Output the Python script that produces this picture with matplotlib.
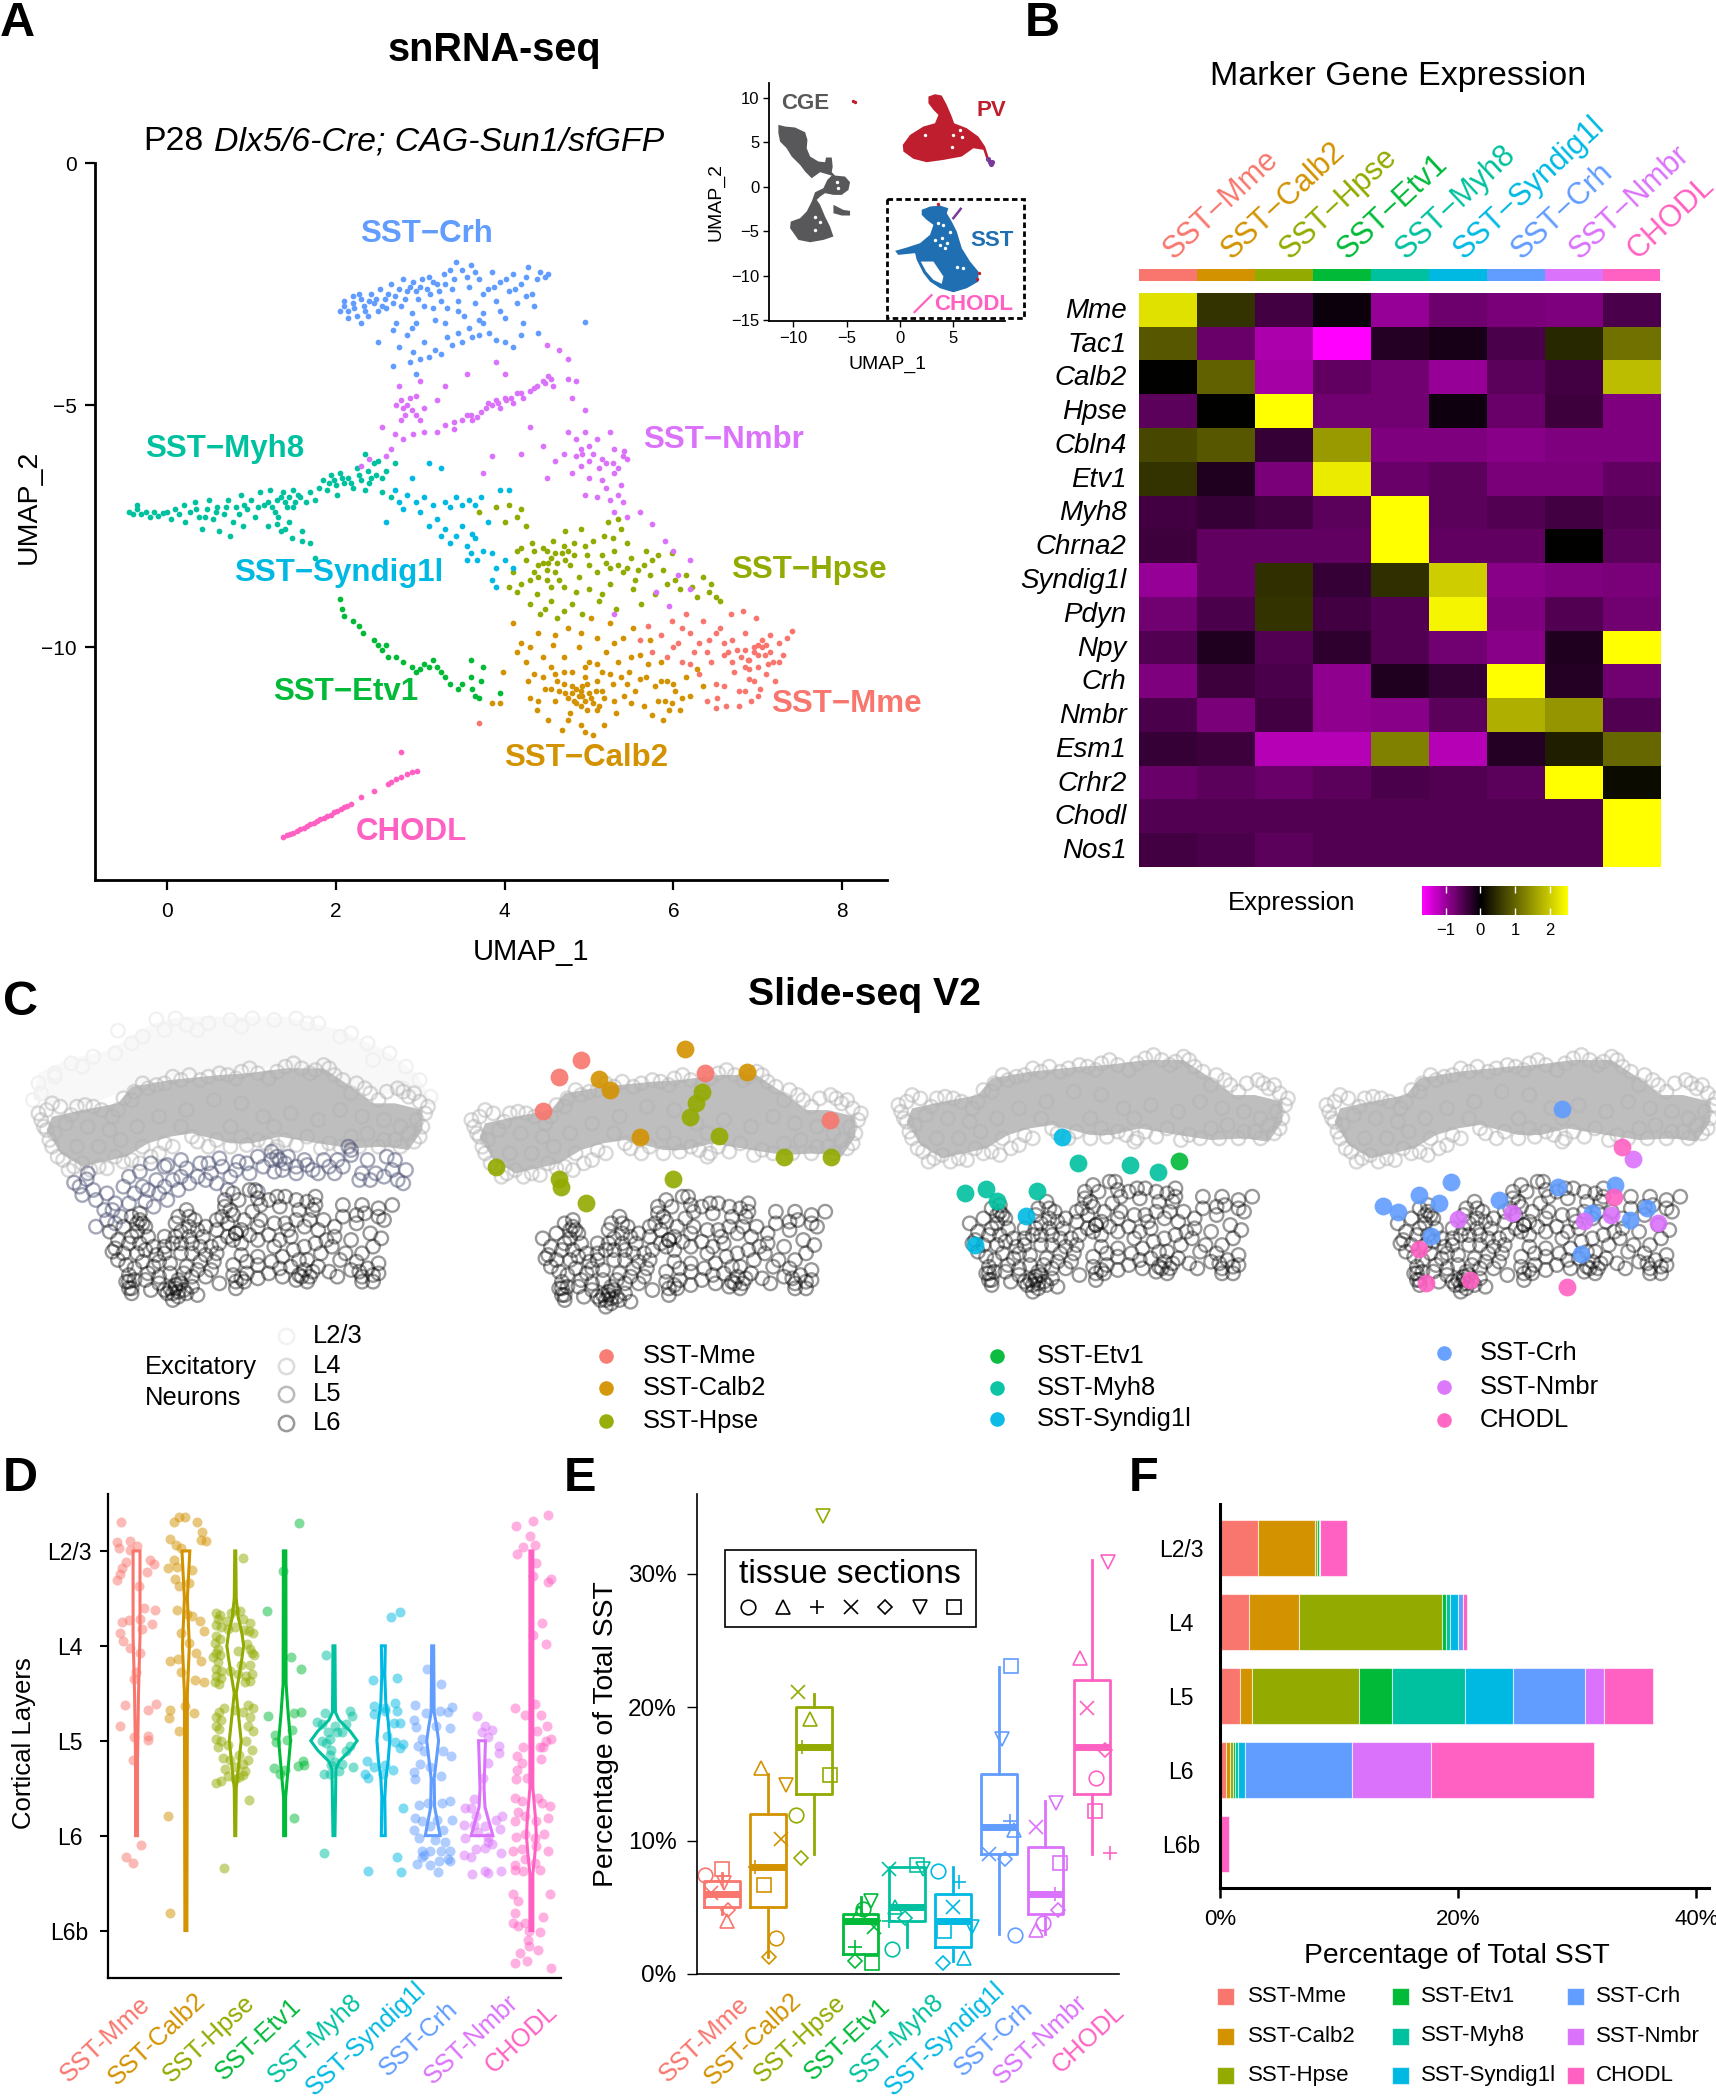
#!/usr/bin/env python3
"""Multi-panel SST interneuron figure: UMAP, marker heatmap, Slide-seq sections, layer plots."""

import numpy as np
import matplotlib
matplotlib.use('Agg')
import matplotlib.pyplot as plt
from matplotlib.colors import LinearSegmentedColormap, TwoSlopeNorm
from matplotlib.patches import Rectangle
from matplotlib.transforms import ScaledTranslation

plt.rcParams['font.family'] = ['Liberation Sans', 'DejaVu Sans']

W, H = 1716, 2100

CLUSTERS = ['SST-Mme', 'SST-Calb2', 'SST-Hpse', 'SST-Etv1', 'SST-Myh8',
            'SST-Syndig1l', 'SST-Crh', 'SST-Nmbr', 'CHODL']
COLORS = ['#F8766D', '#D39200', '#93AA00', '#00BA38', '#00C19F',
          '#00B9E3', '#619CFF', '#DB72FB', '#FF61C3']
LAYERS = ['L2/3', 'L4', 'L5', 'L6', 'L6b']

# Panel A: UMAP coordinates
UMAP_CRH = [(2.05,-3.05),(2.1,-2.85),(2.15,-3.2),(2.2,-2.75),(2.22,-3.0),(2.28,-2.7),(2.3,-3.3),(2.33,-2.95),(2.38,-3.15),(2.42,-2.7),(2.45,-2.9),(2.5,-3.05),(2.52,-2.6),(2.58,-2.8),(2.6,-3.0),(2.65,-2.5),(2.7,-2.75),(2.72,-3.3),(2.78,-2.95),(2.8,-2.4),(2.85,-2.65),(2.9,-3.1),(2.92,-2.45),(2.98,-2.8),(3.0,-2.55),(3.05,-2.95),(3.1,-2.35),(3.12,-2.7),(3.18,-3.25),(3.2,-2.5),(3.25,-2.85),(3.28,-2.3),(3.32,-3.0),(3.38,-2.6),(3.42,-2.05),(3.45,-2.85),(3.5,-2.2),(3.52,-3.15),(3.58,-2.55),(3.6,-2.1),(3.65,-2.9),(3.7,-2.4),(3.75,-3.1),(3.8,-2.6),(3.85,-2.25),(3.9,-2.85),(3.95,-2.45),(4.0,-3.2),(4.05,-2.65),(4.1,-2.3),(4.15,-2.9),(4.2,-2.5),(4.22,-3.3),(4.28,-2.15),(4.32,-2.7),(4.38,-2.4),(4.42,-2.25),(4.48,-2.35),(4.52,-2.3),(4.35,-2.95),
            (2.5,-3.7),(2.68,-3.45),(2.75,-3.8),(2.85,-3.55),(2.88,-4.1),(2.92,-3.9),(2.95,-4.35),(3.0,-4.05),(3.05,-3.7),(3.1,-4.0),(3.18,-3.85),(3.25,-3.95),(3.32,-3.6),(3.38,-3.75),(3.45,-3.5),(3.5,-3.7),(3.58,-3.4),(3.62,-3.6),(3.7,-3.55),(3.75,-3.3),(3.82,-3.5),(3.9,-3.65),(4.0,-3.7),(4.1,-3.8),(4.2,-3.55),(4.4,-3.5),(4.95,-3.28),(2.68,-4.2),(2.9,-3.4),(3.3,-3.3),
            (2.1,-2.95),(2.15,-3.05),(2.2,-2.9),(2.25,-3.15),(2.3,-2.8),(2.35,-3.05),(2.4,-2.85),(2.48,-2.8),(2.55,-2.95),(2.62,-2.7),(2.68,-2.9),(2.75,-2.6),(2.82,-2.8),(2.88,-2.55),(2.95,-2.65),(3.02,-2.4),(3.08,-2.6),(3.15,-2.45),(3.22,-2.65),(3.3,-2.5),(3.35,-2.2),(3.4,-2.4),(3.55,-2.35),(3.65,-2.25),(3.75,-2.7),(3.88,-2.55),(4.02,-2.4),(4.12,-2.6),(4.25,-2.35),(3.15,-3.0),(3.45,-3.05),(3.7,-3.25),(2.95,-3.3),(3.95,-3.05),(4.25,-2.75)]
UMAP_NMBR = [(2.75,-4.6),(2.78,-4.9),(2.72,-5.0),(2.85,-5.0),(2.82,-5.2),(2.9,-5.1),(2.95,-4.8),(3.0,-4.5),(3.0,-5.3),(3.05,-5.05),(2.7,-5.6),(2.65,-5.9),(2.6,-6.05),(2.8,-5.7),(2.92,-5.6),(3.05,-5.55),(2.55,-5.45),(3.2,-5.55),(3.3,-5.4),(3.4,-5.5),(3.5,-5.3),(3.55,-5.2),(3.62,-5.3),(3.72,-5.15),(3.78,-5.05),(3.9,-4.9),(3.95,-5.05),(4.0,-4.85),(4.1,-4.95),(4.15,-4.75),(4.22,-4.85),(4.3,-4.7),(4.38,-4.6),(4.45,-4.5),(4.55,-4.45),(4.58,-4.6),(4.75,-4.45),(4.85,-4.5),(3.55,-4.35),(3.9,-4.1),(4.0,-4.35),(4.5,-3.75),(4.65,-3.85),(4.75,-4.05),(4.8,-4.85),(4.95,-5.1),(3.2,-4.9),(3.3,-4.6),(4.3,-5.45),(4.45,-5.85),(3.85,-6.05),(3.75,-6.4),(4.2,-6.0),
             (4.75,-5.55),(4.85,-5.7),(4.95,-5.55),(5.0,-5.85),(5.1,-5.7),(4.7,-6.0),(4.85,-6.05),(5.0,-6.15),(5.15,-6.1),(5.25,-5.55),(5.3,-5.9),(5.4,-6.05),(4.8,-6.4),(5.0,-6.5),(5.15,-6.55),(5.3,-6.4),(5.38,-6.65),(4.95,-6.85),(5.1,-6.9),(5.25,-6.95),(5.4,-7.0),(5.3,-7.2),(5.45,-7.3),(4.5,-6.5),(4.6,-6.15),(5.6,-7.2),(5.75,-7.45),(5.9,-7.8),(6.0,-8.0),(6.2,-8.2),(6.05,-8.5),(5.8,-8.85),(6.2,-8.8),(5.95,-9.15),(5.3,-9.3),(2.4,-6.1),(2.3,-6.25),
             (2.8,-5.05),(2.88,-4.85),(2.78,-5.3),(2.95,-5.2),(3.4,-5.35),(3.6,-5.2),(3.68,-5.25),(3.8,-4.95),(3.85,-5.0),(3.92,-4.95),(4.02,-4.9),(4.08,-4.85),(4.2,-4.75),(4.35,-4.65),(4.48,-4.55),(4.52,-4.4),(4.9,-5.9),(4.92,-6.0),(5.05,-6.0),(5.2,-6.2),(5.28,-6.2),(5.35,-6.3),(5.45,-6.1),(5.2,-6.7),(5.35,-6.85),(5.12,-6.3),(4.9,-6.25),(5.42,-5.95)]
UMAP_MYH8 = [(-.45,-7.2),(-.4,-7.25),(-.35,-7.15),(-.3,-7.25),(-.35,-7.05),(-.25,-7.2),(-.2,-7.3),(-.15,-7.2),(-.1,-7.28),(-.05,-7.22),(0.0,-7.2),(.05,-7.35),(.1,-7.15),(.15,-7.25),(.2,-7.05),(.22,-7.4),(.28,-7.2),(.33,-7.0),(.38,-7.3),(.42,-7.55),(.48,-7.15),(.5,-6.95),(.55,-7.35),(.6,-7.1),(.62,-7.6),(.68,-7.25),(.72,-6.95),(.75,-7.7),(.78,-7.4),(.82,-7.1),(.88,-6.85),(.9,-7.5),(.95,-7.15),(1.0,-6.95),(1.05,-7.3),(1.1,-6.8),(1.15,-7.05),(1.2,-7.5),(1.22,-6.75),(1.28,-7.2),(1.3,-6.95),(1.35,-7.6),(1.38,-6.8),(1.42,-7.1),(1.45,-7.4),(1.5,-6.75),(1.52,-7.0),(1.48,-7.75),(1.58,-6.9),(1.65,-7.0),(1.7,-6.8),(1.75,-6.95),(1.8,-6.7),(1.85,-6.55),(1.9,-6.75),(1.95,-6.45),(2.0,-6.65),(2.02,-6.85),(2.05,-6.4),(2.1,-6.6),(2.15,-6.5),(2.2,-6.7),(2.25,-6.3),(2.3,-6.55),(2.35,-6.75),(2.4,-6.6),(2.45,-6.2),(2.48,-6.45),(2.55,-6.5),(2.6,-6.35),(2.7,-6.2),(2.35,-6.0),(2.5,-6.15),(2.55,-6.8),(2.65,-6.9),(1.6,-7.6),(1.6,-7.8),(1.7,-7.85),(1.75,-8.15),
             (1.2,-7.0),(1.25,-7.1),(1.32,-7.3),(1.4,-7.0),(1.45,-6.9),(1.35,-6.9),(1.5,-7.1),(1.55,-6.85),(1.3,-7.45),(1.4,-7.55),(.85,-7.25),(.92,-7.05),(1.08,-7.1),(.7,-7.1),(.58,-7.2),(.45,-7.3),(.35,-7.15),(2.08,-6.5),(2.18,-6.6),(2.28,-6.45),(2.42,-6.5),(2.38,-6.35),(1.98,-6.55),(1.92,-6.6)]
UMAP_SYNDIG = [(2.7,-6.75),(2.75,-7.0),(2.8,-7.15),(2.85,-6.85),(2.9,-6.5),(2.95,-7.0),(3.0,-7.2),(3.05,-6.9),(3.15,-7.05),(3.1,-6.2),(3.25,-6.3),(3.3,-7.0),(3.35,-7.1),(3.42,-6.9),(3.5,-7.05),(3.58,-6.95),(3.65,-7.05),(3.72,-6.9),(2.6,-7.4),(3.1,-7.5),(3.2,-7.35),(3.25,-7.7),(3.3,-7.55),(3.35,-7.85),(3.42,-7.7),(3.5,-7.5),(3.55,-7.9),(3.6,-8.05),(3.62,-7.65),(3.68,-8.2),(3.75,-8.0),(3.85,-8.05),(3.9,-8.35),(4.0,-8.2),(4.1,-8.35),(3.85,-8.6),(3.9,-8.75),(3.95,-6.75),(4.05,-6.75),(3.8,-7.4),(3.65,-7.75),(3.55,-8.2)]
UMAP_HPSE = [(3.7,-7.2),(3.9,-7.1),(4.0,-7.4),(4.05,-7.05),(4.15,-7.3),(4.2,-7.15),(4.25,-7.5),(4.05,-8.75),(4.1,-8.45),(4.15,-8.85),(4.15,-8.0),(4.2,-7.95),(4.25,-8.2),(4.3,-8.6),(4.32,-7.85),(4.38,-8.9),(4.4,-8.3),(4.42,-9.3),(4.45,-7.95),(4.5,-8.6),(4.52,-8.25),(4.55,-9.05),(4.58,-7.8),(4.6,-8.45),(4.62,-9.4),(4.68,-8.05),(4.7,-8.75),(4.72,-7.6),(4.78,-8.3),(4.8,-9.1),(4.82,-7.85),(4.88,-8.55),(4.9,-7.55),(4.92,-9.3),(4.98,-8.1),(5.0,-8.8),(5.05,-7.8),(5.1,-8.45),(5.12,-9.05),(5.18,-7.7),(5.2,-8.25),(5.25,-8.7),(5.3,-8.0),(5.32,-9.2),(5.38,-7.55),(5.4,-8.45),(5.45,-7.85),(5.5,-8.15),(5.52,-8.8),(5.58,-8.4),(5.62,-9.1),(5.68,-8.0),(5.72,-8.5),(5.78,-8.9),(5.82,-8.1),(5.88,-8.4),(5.92,-8.7),(5.98,-8.05),(6.02,-8.6),(6.08,-8.8),(6.15,-8.5),(6.22,-8.75),(6.28,-8.95),(6.35,-8.55),(6.42,-8.85),(6.5,-8.95),(6.55,-9.05),(6.45,-8.7),(5.22,-7.4),(5.35,-7.35),(5.28,-7.75),(4.5,-8.0),(4.75,-8.0),
             (4.35,-8.0),(4.45,-8.25),(4.5,-8.4),(4.55,-8.15),(4.6,-8.05),(4.62,-8.25),(4.65,-8.6),(4.55,-8.75),(4.4,-8.55),(4.35,-8.45),(4.72,-8.2),(4.82,-8.1),(4.7,-7.9),(4.95,-7.9),(5.0,-8.3),(5.15,-8.1),(5.25,-8.35),(5.35,-8.3),(5.45,-8.35),(5.55,-8.6),(5.65,-8.3),(5.75,-8.2),(4.48,-9.2),(4.7,-9.25),(4.3,-9.1),(4.85,-8.85),(5.15,-8.9),(4.2,-8.7)]
UMAP_CALB2 = [(4.1,-9.5),(4.15,-10.1),(4.2,-9.9),(4.25,-10.3),(4.3,-10.0),(4.28,-10.7),(4.3,-11.05),(4.35,-10.55),(4.38,-11.3),(4.4,-9.7),(4.45,-10.2),(4.48,-10.85),(4.52,-11.5),(4.55,-10.4),(4.58,-9.95),(4.6,-11.1),(4.62,-10.7),(4.68,-11.7),(4.7,-10.2),(4.72,-10.95),(4.75,-9.6),(4.78,-11.35),(4.8,-10.5),(4.82,-11.1),(4.85,-10.85),(4.88,-10.0),(4.9,-11.6),(4.92,-11.0),(4.95,-10.6),(4.98,-11.3),(5.0,-10.3),(5.02,-9.4),(5.05,-11.8),(5.08,-10.9),(5.1,-9.8),(5.12,-11.2),(5.15,-10.5),(5.18,-11.05),(5.2,-10.1),(5.25,-9.5),(5.28,-10.75),(5.32,-11.35),(5.35,-10.3),(5.4,-9.8),(5.42,-11.0),(5.48,-10.5),(5.52,-9.6),(5.55,-10.9),(5.6,-10.15),(5.65,-11.2),(5.68,-10.6),(5.72,-9.85),(5.75,-11.4),(5.78,-10.8),(5.82,-11.1),(5.85,-10.3),(5.88,-11.5),(5.92,-10.7),(5.98,-11.15),(6.02,-10.9),(6.08,-11.3),(6.15,-10.6),(6.2,-11.0),(6.28,-10.45),(6.35,-10.8),(3.85,-11.15),(3.95,-11.15),(3.98,-10.5),(4.9,-10.9),(4.85,-11.15),(5.0,-10.95),(4.95,-11.1),(5.05,-11.15),(4.8,-10.95),(5.1,-11.3),
              (4.65,-10.9),(4.7,-10.75),(4.75,-11.05),(4.8,-10.8),(4.88,-11.0),(4.92,-10.8),(4.9,-11.2),(4.98,-10.75),(5.03,-11.05),(5.1,-10.7),(5.15,-10.9),(4.55,-10.85),(4.45,-10.6),(4.6,-10.55),(4.7,-10.5),(4.95,-10.4),(5.1,-10.35),(5.25,-10.55),(5.38,-10.6),(5.45,-10.75),(5.6,-10.65),(5.7,-10.35),(5.85,-10.7),(5.9,-11.1),(5.95,-11.3),(6.1,-11.05),(6.0,-10.75),(5.3,-11.1),(5.5,-11.15),(4.75,-11.5),(4.95,-11.75),(5.18,-11.6),(4.4,-11.1),(4.6,-9.75),(4.9,-9.7),(5.3,-9.9),(5.5,-10.2)]
UMAP_MME = [(5.6,-9.85),(5.7,-9.55),(5.75,-10.1),(5.85,-9.75),(5.92,-10.2),(5.98,-9.45),(6.05,-9.9),(6.1,-10.3),(6.15,-9.3),(6.2,-9.7),(6.25,-10.1),(6.3,-10.55),(6.35,-9.45),(6.42,-9.85),(6.45,-10.3),(6.5,-10.75),(6.52,-11.05),(6.55,-9.6),(6.6,-10.15),(6.62,-11.2),(6.68,-9.3),(6.7,-9.85),(6.72,-10.5),(6.78,-10.9),(6.82,-9.25),(6.85,-9.7),(6.88,-10.25),(6.9,-10.65),(6.92,-11.1),(6.95,-10.0),(6.98,-9.4),(7.0,-10.4),(7.02,-10.85),(7.05,-9.85),(7.08,-10.15),(7.1,-10.55),(7.15,-9.75),(7.18,-10.3),(7.2,-10.7),(7.25,-9.9),(7.3,-10.15),(7.35,-9.8),(7.4,-9.65),(6.95,-10.1),(6.85,-10.05),(6.75,-10.05),(6.65,-10.1),(7.05,-10.0),(6.9,-10.45),(6.4,-11.1),(6.5,-11.25),(3.7,-11.55),
            (6.8,-10.2),(6.85,-10.4),(6.9,-10.25),(7.0,-10.15),(7.0,-9.95),(7.1,-9.95),(7.15,-10.1),(6.7,-10.3),(6.6,-9.9),(6.5,-9.7),(6.4,-10.1),(6.3,-9.9),(6.2,-10.35),(6.1,-9.6),(6.0,-10.0),(6.95,-10.7),(6.85,-10.9),(7.0,-11.0),(6.78,-11.2),(6.6,-10.8),(7.25,-10.3),(7.12,-10.35)]
UMAP_ETV1 = [(2.05,-9.0),(2.08,-9.2),(2.1,-9.35),(2.2,-9.45),(2.28,-9.55),(2.32,-9.7),(2.45,-9.85),(2.5,-9.95),(2.55,-10.05),(2.6,-9.95),(2.62,-10.2),(2.72,-10.2),(2.8,-10.3),(2.9,-10.4),(2.95,-10.5),(3.0,-10.45),(3.05,-10.35),(3.1,-10.4),(3.2,-10.4),(3.25,-10.5),(3.3,-10.6),(3.35,-10.75),(3.45,-10.85),(3.5,-10.75),(3.6,-10.6),(3.62,-10.85),(3.65,-11.0),(3.72,-10.7),(3.75,-10.4),(3.6,-10.25),(3.7,-11.05),(3.95,-10.95),(3.15,-10.25)]
UMAP_CHODL = [(1.38,-13.92),(1.42,-13.88),(1.46,-13.85),(1.5,-13.82),(1.54,-13.78),(1.58,-13.75),(1.62,-13.72),(1.66,-13.68),(1.7,-13.65),(1.74,-13.62),(1.78,-13.58),(1.82,-13.55),(1.86,-13.52),(1.9,-13.48),(1.94,-13.45),(1.98,-13.4),(2.02,-13.38),(2.06,-13.34),(2.1,-13.3),(2.14,-13.27),(2.18,-13.23),(2.3,-13.08),(2.46,-12.97),(2.62,-12.82),(2.66,-12.78),(2.72,-12.72),(2.78,-12.68),(2.84,-12.62),(2.9,-12.58),(2.96,-12.54),(2.77,-12.15)]

# Panel A inset: class outlines
CGE_OUTLINE = [(-11.42,6.94),(-10.79,6.75),(-9.85,6.64),(-8.91,6.11),(-8.69,5.25),(-8.76,4.31),(-8.44,3.38),(-7.66,2.82),(-7.04,2.74),(-6.94,3.27),(-6.41,3.27),(-6.32,2.25),(-6.41,1.62),(-6.1,1.24),(-5.16,1.13),(-4.69,.49),(-4.84,-.37),(-5.47,-.93),(-6.25,-.93),(-7.04,-.74),(-7.5,-1.12),(-7.82,-1.49),(-7.5,-2.05),(-7.04,-3.36),(-6.57,-4.49),(-6.25,-5.61),(-7.19,-5.99),(-8.44,-6.25),(-9.54,-5.99),(-10.32,-4.67),(-10.26,-3.93),(-9.38,-3.55),(-8.76,-2.8),(-8.29,-1.68),(-7.97,-.63),(-7.19,-.18),(-6.82,.76),(-6.41,1.24),(-7.5,1.62),(-8.29,.94),(-8.91,1.69),(-9.38,2.44),(-10.17,3.38),(-10.64,4.31),(-11.26,5.06),(-11.42,6.0)]
CGE_ISLAND = [(-6.25,-2.05),(-5.31,-2.62),(-4.69,-2.73),(-4.69,-3.25),(-5.47,-3.25),(-6.25,-2.99)]
PV_OUTLINE = [(2.67,10.12),(3.29,10.38),(3.92,10.23),(4.39,9.18),(4.86,7.87),(5.08,7.12),(6.27,6.56),(7.36,5.62),(7.99,4.5),(8.3,3.38),(8.14,3.0),(7.83,4.13),(6.89,4.31),(5.8,3.38),(4.08,3.0),(2.51,2.74),(1.26,3.12),(.32,3.94),(.26,4.69),(.95,5.81),(2.2,6.75),(3.29,7.12),(3.61,8.06),(3.14,8.62),(2.67,9.37)]
SST_OUTLINE = [(2.04,-2.61),(2.82,-2.24),(3.76,-2.13),(4.54,-2.43),(4.39,-2.99),(4.86,-3.93),(5.33,-5.05),(5.8,-6.92),(6.58,-8.42),(7.36,-9.54),(7.36,-10.67),(6.27,-11.42),(5.01,-11.87),(3.76,-11.42),(2.82,-10.67),(2.2,-9.73),(1.57,-8.23),(1.42,-7.48),(-.15,-7.67),(-.46,-7.22),(.63,-6.85),(1.88,-6.36),(2.82,-5.42),(3.14,-4.3),(2.51,-3.74),(2.04,-3.18)]
SST_GAP = [(1.95,-8.42),(3.14,-8.42),(4.08,-10.1),(3.92,-10.93),(3.14,-10.48),(2.45,-9.54)]
INSET_HOLES = [(3.61,-4.11),(4.08,-4.3),(3.29,-5.99),(3.92,-5.8),(4.39,-6.36),(3.76,-6.55),(4.23,-6.92),(4.7,-5.05),(5.33,-8.98),(5.95,-9.17),(-5.94,.57),(-7.97,-3.36),(-7.97,-4.86),(-7.5,-3.93),(-5.78,-.18),(5.0,5.81),(4.86,4.5),(5.64,6.37),(5.8,5.62),(2.35,5.81)]
INSET_PURPLE = [(8.46,2.8),(8.3,3.1),(8.65,2.8),(8.5,2.55)]
INSET_STREAK = [(5.01,-3.55),(5.7,-2.5)]
INSET_RED = [(-4.4,9.67),(-4.25,9.5),(3.6,-1.94),(7.46,-9.73),(7.2,-10.37)]
INSET_CHODL = [(1.36,-14.1),(2.96,-12.2)]

# Panel B: scaled expression
GENES = ['Mme', 'Tac1', 'Calb2', 'Hpse', 'Cbln4', 'Etv1', 'Myh8', 'Chrna2', 'Syndig1l',
         'Pdyn', 'Npy', 'Crh', 'Nmbr', 'Esm1', 'Crhr2', 'Chodl', 'Nos1']
EXPRESSION = [
    [2.2, 0.5, -0.45, -0.07, -1.0, -0.72, -0.8, -0.85, -0.5],
    [0.85, -0.7, -1.15, -1.7, -0.25, -0.15, -0.5, 0.4, 1.1],
    [0.0, 0.95, -1.1, -0.65, -0.75, -1.0, -0.6, -0.45, 1.85],
    [-0.6, 0.0, 2.5, -0.75, -0.75, -0.1, -0.7, -0.4, -0.85],
    [0.7, 0.85, -0.35, 1.5, -0.85, -0.85, -0.9, -0.85, -0.85],
    [0.5, -0.2, -0.8, 2.3, -0.7, -0.6, -0.8, -0.8, -0.65],
    [-0.45, -0.35, -0.45, -0.6, 2.5, -0.6, -0.55, -0.45, -0.55],
    [-0.4, -0.65, -0.65, -0.65, 2.5, -0.65, -0.65, 0.0, -0.6],
    [-1.0, -0.65, 0.45, -0.35, 0.45, 2.0, -0.9, -0.85, -0.8],
    [-0.75, -0.5, 0.5, -0.45, -0.55, 2.4, -0.85, -0.55, -0.75],
    [-0.55, -0.2, -0.55, -0.3, -0.55, -0.75, -0.9, -0.2, 2.5],
    [-0.85, -0.4, -0.5, -0.95, -0.2, -0.35, 2.5, -0.25, -0.75],
    [-0.5, -0.8, -0.45, -0.95, -0.9, -0.6, 1.7, 1.45, -0.55],
    [-0.35, -0.4, -1.2, -1.2, 1.25, -1.2, -0.25, 0.3, 1.0],
    [-0.7, -0.6, -0.7, -0.6, -0.5, -0.55, -0.6, 2.5, 0.1],
    [-0.55, -0.55, -0.55, -0.55, -0.55, -0.55, -0.55, -0.55, 2.5],
    [-0.45, -0.5, -0.6, -0.55, -0.55, -0.55, -0.55, -0.55, 2.5],
]

# Panel C: excitatory neuron rings and SST cells, in section coordinates
L23_OUTLINE = [(60,420),(70,340),(120,300),(200,270),(280,190),(330,170),(520,170),(620,210),(700,270),(760,340),(785,420),(700,400),(500,320),(300,350),(150,440)]
L23_RINGS = [(215,212),(285,178),(320,175),(500,180),(620,230),(150,320),(75,400),(735,385),(360,210),(440,200),(560,190),(100,350),(680,300),(100,340),(130,310),(170,290),(210,280),(240,250),(260,230),(300,210),(340,195),(380,190),(420,180),(460,175),(540,175),(580,190),(640,220),(670,250),(710,280),(740,320),(765,360),(70,370),(60,420),(785,410)]
L4_OUTLINE = [(95,470),(150,450),(215,430),(240,380),(310,360),(400,345),(450,340),(520,325),(590,325),(640,380),(680,430),(720,430),(770,450),(770,510),(745,570),(700,560),(640,565),(580,550),(510,530),(460,550),(420,550),(350,520),(310,530),(270,550),(230,590),(150,620),(110,580),(85,510)]
L4_RINGS = [(85,450),(110,440),(130,465),(155,435),(185,450),(205,470),(225,415),(245,395),(270,385),(300,370),(330,360),(365,360),(400,340),(430,355),(455,325),(490,355),(520,320),(535,310),(565,340),(590,315),(610,345),(650,370),(640,400),(690,420),(725,385),(745,410),(765,425),(775,460),(770,500),(755,545),(730,560),(700,540),(670,520),(640,530),(600,550),(560,530),(520,540),(500,570),(470,540),(440,530),(395,540),(350,530),(330,500),(300,550),(290,580),(260,560),(240,600),(210,590),(180,620),(150,610),(125,630),(115,600),(95,560),(85,510),(75,480),(100,520),(140,560),(180,560),(220,540),(250,500),(290,470),(340,450),(390,420),(440,430),(480,470),(530,460),(580,480),(620,450),(660,470),(700,480),(730,500),(160,500),(120,490),(200,510),(420,500),(500,500),
            (70,460),(95,430),(140,440),(170,440),(215,450),(240,420),(260,370),(285,375),(315,350),(345,345),(380,350),(415,345),(440,335),(470,340),(505,335),(550,325),(575,330),(600,325),(625,360),(665,385),(675,400),(705,395),(735,395),(755,400),(780,440),(760,480),(765,530),(745,520),(720,540),(690,560),(655,560),(620,560),(585,565),(540,555),(505,560),(485,550),(450,555),(420,560),(380,560),(360,545),(315,560),(275,590),(255,610),(225,605),(195,625),(165,630),(135,620),(105,590),(90,540),(80,500)]
L5_RINGS = [(135,668),(158,658),(160,640),(150,705),(175,720),(190,750),(210,730),(225,680),(235,650),(255,635),(285,660),(300,620),(315,660),(325,690),(340,625),(365,610),(385,640),(420,650),(405,620),(435,605),(470,590),(495,575),(520,610),(500,635),(560,615),(580,640),(600,620),(635,560),(640,585),(615,600),(655,660),(685,640),(705,590),(715,630),(740,630),(735,670),(290,700),(305,720),(415,690),(470,695),(195,780),(175,800),(305,615),(275,610),(330,600),(455,640),(510,600),(540,640),(670,600),
            (145,680),(170,690),(195,700),(205,750),(220,770),(245,700),(260,680),(270,690),(300,680),(330,650),(345,670),(360,650),(375,660),(395,670),(430,630),(450,610),(480,620),(495,600),(505,590),(515,630),(525,590),(540,620),(555,600),(570,630),(590,600),(610,640),(625,620),(640,570),(660,640),(675,660),(700,650),(720,600),(725,660),(210,790),(235,730),(265,725),(280,740),(380,610),(400,595)]
L6_RINGS = [(200,815),(210,865),(225,800),(240,770),(255,780),(265,800),(215,900),(235,945),(240,1000),(275,990),(300,990),(320,985),(315,1000),(330,970),(350,980),(270,940),(290,905),(250,880),(280,860),(300,830),(320,790),(340,750),(355,780),(370,830),(385,860),(350,850),(330,880),(310,910),(340,920),(365,905),(395,880),(415,830),(430,820),(445,780),(410,720),(420,750),(395,780),(465,690),(470,715),(505,710),(510,740),(520,790),(545,750),(575,710),(570,750),(555,800),(530,830),(500,860),(470,890),(440,885),(425,915),(450,940),(430,965),(400,970),(490,940),(515,950),(545,945),(565,950),(560,900),(585,880),(605,860),(620,900),(640,930),(660,950),(680,965),(690,910),(680,860),(660,880),(640,840),(610,800),(590,780),(625,735),(660,735),(690,770),(715,735),(700,780),(650,790),(470,840),(440,850),(375,950),(335,940),(390,905),(320,830),(270,830),(235,850),(205,875),(545,900),(500,790),(475,780),(435,720),(460,755),(610,830),(245,960),(290,970),(325,1010),(360,1005),(320,975),(305,1000),(555,930),(570,935),(540,960),(430,820),(425,840),(250,790),(260,790),(365,860),(345,830),
            (215,840),(225,880),(240,830),(255,850),(265,870),(285,885),(300,860),(315,850),(330,815),(345,800),(360,810),(375,800),(330,850),(300,880),(280,920),(260,905),(245,925),(265,960),(230,965),(235,985),(290,950),(310,940),(325,960),(350,950),(360,930),(385,930),(375,885),(350,880),(400,850),(395,810),(405,770),(415,790),(425,765),(440,810),(455,825),(470,800),(490,825),(510,840),(525,810),(540,780),(565,780),(580,810),(595,840),(575,850),(555,860),(535,870),(515,890),(495,905),(470,915),(450,905),(425,945),(445,965),(470,955),(510,925),(530,920),(580,920),(600,935),(615,950),(630,880),(650,905),(670,925),(690,940),(675,820),(695,835),(650,765),(665,760),(690,745),(625,770),(540,720),(520,710),(490,720),(455,690),(475,735),(560,725),(575,735),(410,740),(425,700),(345,770),(325,770),(255,760),(250,815),(230,915),(315,1020),(325,995),(335,990),(310,985),(340,1000),(240,985),(235,965),(560,965),(550,950),(430,985),(660,965),(655,935),(680,945),(440,955)]
SLIDE_MME = [(270,280),(230,330),(200,432),(496,320),(723,460)]
SLIDE_CALB2 = [(460,247),(303,338),(323,370),(377,510),(572,316)]
SLIDE_HPSE = [(490,377),(480,410),(468,452),(522,508),(640,572),(726,570),(115,600),(229,636),(234,662),(437,636),(278,708)]
SLIDE_MYH8 = [(397,635),(493,639),(543,660),(192,723),(230,711),(250,749),(322,719)]
SLIDE_ETV1 = [(582,629)]
SLIDE_SYNDIG = [(368,555),(302,793),(210,880)]
SLIDE_CRH = [(500,472),(297,690),(239,729),(173,763),(200,782),(275,755),(385,745),(493,705),(597,700),(555,785),(655,770),(623,805),(261,853),(535,907)]
SLIDE_NMBR = [(628,623),(310,803),(408,783),(540,808),(588,790),(674,815)]
SLIDE_CHODL = [(609,585),(595,737),(238,891),(251,993),(331,985),(508,1005)]

# Panel D: cell depths (x is cluster position plus jitter, y is layer position)
DEPTH_MME = [(-.31,-.31),(-.39,-.09),(-.36,-.03),(-.14,-.10),(-.13,-.01),(.01,-.05),(-.22,.12),(-.29,.18),(-.34,.24),(-.39,.31),(.22,.22),(.28,.10),(.35,.14),(.04,.37),(.16,.60),(.37,.62),(-.16,.73),(-.29,.75),(.07,.72),(.31,.77),(-.34,.87),(.12,.82),(-.28,.95),(-.14,1.02),(.07,1.08),(-.01,1.28),(-.05,1.35),(-.23,1.62),(.24,1.68),(.40,1.61),(-.34,1.85),(-.06,1.96),(.23,1.95),(.23,1.99),(-.07,2.20),(.10,3.10),(-.22,3.23),(-.08,3.29)]
DEPTH_CALB2 = [(.76,-.31),(.86,-.36),(.99,-.36),(1.23,-.31),(1.32,-.20),(1.40,-.10),(1.31,-.11),(.67,-.13),(.80,-.06),(.91,-.03),(.76,.10),(.63,.18),(.81,.17),(1.13,.20),(.78,.30),(1.06,.34),(.87,.37),(.82,.62),(1.02,.66),(1.13,.69),(1.28,.74),(.91,.86),(1.36,.84),(1.06,.97),(1.21,1.08),(.84,1.14),(.67,1.16),(1.30,1.16),(.91,1.28),(1.19,1.36),(1.37,1.38),(.99,1.63),(1.17,1.71),(.67,1.68),(.66,1.76),(.86,1.90),(.63,2.79),(.67,3.81)]
DEPTH_HPSE = [(2.16,.07),(1.78,3.34),(2.28,2.62),(1.6,.65),(1.7,.68),(1.66,.72),(1.62,.78),(1.72,.8),(1.84,.74),(1.92,.65),(2.0,.62),(2.1,.63),(2.16,.72),(2.3,.76),(2.18,.83),(2.27,.84),(1.6,.9),(1.7,.93),(1.86,.82),(2.0,.8),(2.35,.86),(1.58,.97),(1.66,1.03),(2.24,.98),(2.3,1.03),(1.6,1.08),(1.7,1.1),(1.55,1.12),(1.65,1.17),(2.05,1.05),(2.33,1.08),(2.38,1.1),(1.62,1.24),(1.72,1.26),(2.12,1.2),(2.3,1.2),(1.6,1.32),(1.72,1.34),(1.9,1.27),(2.05,1.3),(2.22,1.32),(2.33,1.3),(1.58,1.38),(1.68,1.4),(2.2,1.38),(2.3,1.37),
               (1.78,1.66),(1.68,1.7),(1.62,1.75),(2.25,1.62),(2.35,1.66),(2.16,1.7),(2.3,1.75),(1.72,1.78),(1.6,1.85),(1.68,1.88),(2.0,1.68),(2.25,1.85),(2.35,1.9),(1.62,1.98),(1.72,2.0),(2.22,2.0),(1.65,2.07),(1.85,2.05),(2.33,2.1),(1.9,2.2),(1.75,2.18),(2.08,2.15),(2.25,2.2),(1.8,2.3),(2.02,2.28),(2.15,2.25),(2.2,2.32),(1.85,2.37),(1.72,2.42),(1.62,2.45),(2.0,2.4),(2.08,2.38),(2.15,2.36)]
DEPTH_ETV1 = [(3.29,-.29),(2.96,.21),(2.65,.63),(3.12,1.12),(3.34,1.24),(2.67,1.74),(3.19,1.71),(3.34,1.70),(2.81,1.94),(2.82,2.01),(3.16,1.89),(3.05,1.99),(2.79,2.29),(3.38,2.21),(3.27,2.27),(3.40,2.26),(2.90,2.35),(3.19,2.81),(3.01,2.31)]
DEPTH_MYH8 = [(3.84,1.10),(3.82,1.71),(4.32,1.69),(4.36,1.74),(3.65,1.80),(3.76,1.82),(4.02,1.85),(4.25,1.82),(3.87,1.91),(4.06,1.91),(4.17,1.91),(3.76,2.0),(3.91,1.98),(3.84,2.02),(4.32,2.06),(3.95,2.10),(4.25,2.11),(3.91,2.15),(4.02,2.22),(4.17,2.25),(4.38,2.28),(3.95,2.26),(3.80,2.35),(3.91,2.35),(4.10,2.32),(3.80,3.18)]
DEPTH_SYNDIG = [(5.33,.64),(5.15,.70),(4.79,1.36),(5.27,1.34),(4.82,1.63),(5.03,1.65),(5.24,1.60),(4.82,1.72),(5.03,1.69),(5.27,1.69),(5.22,1.81),(5.34,1.81),(5.07,1.95),(5.24,2.01),(5.39,2.03),(5.33,2.08),(4.67,2.21),(4.81,2.28),(4.62,2.35),(4.68,2.39),(5.03,2.26),(5.19,2.31),(4.99,2.35),(5.39,2.71),(5.28,3.23),(4.68,3.37),(5.36,3.38)]
DEPTH_CRH = [(5.89,1.24),(6.16,1.40),(5.64,1.62),(5.87,1.71),(5.63,1.78),(5.66,1.86),(6.40,1.64),(6.31,1.70),(6.15,1.69),(6.07,1.85),(6.35,1.87),(5.79,1.98),(5.70,2.06),(5.83,2.11),(6.20,2.11),(6.37,2.16),(5.75,2.25),(5.94,2.28),(5.63,2.33),(5.64,2.40),(6.16,2.37),(5.72,2.68),(5.90,2.66),(6.19,2.66),(6.35,2.63),(5.64,2.81),(5.79,2.85),(6.09,2.83),(6.39,2.84),(5.63,2.94),(5.94,2.90),(6.20,2.94),(5.72,3.03),(6.05,3.05),(6.24,3.07),(5.79,3.16),(5.94,3.16),(6.16,3.16),(6.35,3.16),(5.83,3.20),(6.31,3.25),(5.68,3.30),(5.94,3.31),(6.13,3.27),(6.35,3.27),(6.11,3.38),(5.79,3.22)]
DEPTH_NMBR = [(6.90,1.74),(7.06,1.84),(7.21,1.89),(6.99,1.91),(7.13,1.96),(7.34,2.06),(7.34,2.13),(7.12,2.23),(7.02,2.39),(6.84,2.61),(6.66,2.71),(6.77,2.71),(6.87,2.79),(7.40,2.79),(7.28,2.83),(6.64,2.89),(6.84,2.89),(7.07,2.90),(7.36,2.93),(6.91,2.96),(6.66,3.03),(7.13,3.01),(7.13,3.07),(6.87,3.14),(7.06,3.13),(6.64,3.20),(6.77,3.22),(7.38,3.18),(7.21,3.09),(6.80,3.40),(7.06,3.37),(7.13,3.39),(7.38,3.37)]
DEPTH_CHODL = [(8.33,-.38),(8.03,-.32),(7.68,-.26),(7.98,-.16),(8.08,-.06),(7.83,-.04),(7.70,.03),(8.10,.13),(8.03,.26),(8.39,.30),(8.34,.33),(8.22,.76),(8.04,.89),(8.29,.98),(8.07,1.61),(7.66,1.65),(7.88,1.73),(8.19,1.73),(8.31,1.84),(8.39,1.98),(8.12,1.90),(8.29,2.0),(7.84,2.07),(8.17,2.07),(8.24,2.07),(7.70,2.16),(8.19,2.19),(7.80,2.23),(7.70,2.31),(7.68,2.40),(7.92,2.39),(7.66,2.60),(7.82,2.63),(8.14,2.60),(7.73,2.75),(8.22,2.66),(8.37,2.69),(7.66,2.85),(7.88,2.79),(8.10,2.85),(8.33,2.81),(7.68,3.01),(7.88,2.98),(8.07,3.03),(8.25,2.98),(7.62,3.16),(7.81,3.14),(8.10,3.11),(8.33,3.16),(7.66,3.31),(7.87,3.25),(8.08,3.29),(7.66,3.36),(7.84,3.37),(8.18,3.36),(7.62,3.62),(8.38,3.62),(7.73,3.69),(7.66,3.81),(8.24,3.86),(7.62,3.92),(7.88,3.92),(7.73,3.95),(7.96,4.01),(8.18,4.02),(7.94,4.10),(7.96,4.16),(8.14,4.21),(7.77,4.24),(7.66,4.34),(7.92,4.32),(8.39,4.39)]

# Panel D violin outlines: layer position and half width
VIOLIN_Y = [[0, .9, 1.5, 2.2, 3], [0, .5, 1.0, 1.5, 4], [0, .5, .7, .85, 1.0, 1.15, 1.5, 1.8, 2, 2.2, 2.5, 3], [0, 1.4, 1.7, 2, 2.3, 2.6, 3],
            [1, 1.7, 1.78, 1.9, 2, 2.1, 2.22, 2.3, 3], [1, 1.3, 1.6, 1.8, 2, 2.2, 2.4, 2.6, 3], [1, 1.7, 1.85, 2, 2.4, 2.7, 3], [2, 2.5, 2.7, 3],
            [0, 1.5, 2.5, 2.8, 3.0, 3.2, 3.4, 4]]
VIOLIN_W = [[.07, .07, .04, .02, .02], [.08, .03, .07, .03, .02], [.01, .02, .06, .13, .17, .13, .02, .08, .12, .08, .02, .01], [.025, .03, .07, .12, .07, .02, .02],
            [.02, .03, .1, .33, .47, .33, .1, .04, .02], [.04, .03, .05, .1, .13, .1, .05, .03, .04], [.02, .03, .08, .12, .03, .04, .15], [.07, .04, .06, .22],
            [.03, .03, .03, .08, .1, .07, .03, .03]]

# Panel E: box statistics and one value per tissue section (percent of total SST)
BOX_Q1 = [5.0, 5.0, 13.5, 1.5, 4.0, 2.0, 9.0, 4.5, 13.5]
BOX_MED = [6.0, 8.0, 17.0, 4.0, 5.0, 4.0, 11.0, 6.0, 17.0]
BOX_Q3 = [7.0, 12.0, 20.0, 4.5, 8.0, 6.0, 15.0, 9.5, 22.0]
BOX_LOW = [4.5, 1.3, 9.0, 1.5, 2.0, 1.0, 3.0, 3.0, 9.0]
BOX_HIGH = [7.6, 15.0, 21.0, 5.8, 8.0, 8.0, 23.0, 13.0, 31.0]
SECTION_MARKERS = ['o', '^', '+', 'x', 'D', 'v', 's']
SECTION_VALUES = [
    [7.4, 4.0, 7.0, 6.1, 4.8, 6.85, 7.9],
    [2.7, 15.4, 8.0, 10.1, 1.3, 14.2, 6.7],
    [11.9, 19.1, 17.0, 21.1, 8.7, 34.3, 14.9],
    [4.9, 4.6, 2.05, 3.5, 1.0, 5.5, 0.8],
    [1.9, 5.0, 4.0, 7.9, 4.2, 7.9, 8.2],
    [7.7, 1.2, 6.9, 5.0, 0.85, 3.5, 3.2],
    [2.9, 10.8, 11.5, 9.0, 8.6, 17.6, 23.1],
    [3.8, 3.3, 6.0, 11.0, 4.8, 12.8, 8.3],
    [14.7, 23.7, 9.1, 19.9, 16.8, 30.9, 12.2],
]
SECTION_OFFSETS = [
    [-.36, .12, .02, -.23, .14, .05, 0.0],
    [.17, -.15, -.29, .29, .02, .39, -.09],
    [-.39, -.09, -.26, -.36, -.29, .18, .34],
    [.06, -.03, -.12, .29, -.11, .22, .24],
    [-.32, -.26, -.39, -.39, -.04, .36, .23],
    [-.32, .23, .14, 0.0, -.22, .41, -.19],
    [.35, .32, .24, -.23, .12, .05, .25],
    [-.05, -.2, .21, -.2, .28, .23, .32],
    [.09, -.25, .39, -.1, .29, .36, .08],
]

# Panel F: percent of total SST per layer, cluster by cluster
LAYER_SHARES = [
    [3.19, 4.78, 0.2, 0.1, 0.15, 0.0, 0.0, 0.0, 2.23],
    [2.46, 4.21, 11.99, 0.32, 0.29, 0.73, 0.38, 0.06, 0.29],
    [1.69, 0.96, 8.99, 2.84, 6.09, 3.99, 6.09, 1.56, 4.15],
    [0.54, 0.26, 0.32, 0.16, 0.26, 0.54, 8.96, 6.67, 13.72],
    [0.0, 0.0, 0.0, 0.0, 0.0, 0.0, 0.0, 0.0, 0.77],
]

fig = plt.figure(figsize=(W / 100, H / 100), dpi=100, facecolor='white')


def px_axes(x0, y0, x1, y1):
    """Axes placed by picture pixels, y counted from the top."""
    ax = fig.add_axes([x0 / W, 1 - y1 / H, (x1 - x0) / W, (y1 - y0) / H])
    ax.patch.set_alpha(0)
    return ax


def clean_spines(ax, lw):
    ax.spines['top'].set_visible(False)
    ax.spines['right'].set_visible(False)
    ax.spines['left'].set_linewidth(lw)
    ax.spines['bottom'].set_linewidth(lw)


def shift_labels(labels, dx_px, dy_px=0):
    """Nudge tick labels by picture pixels."""
    for label in labels:
        label.set_transform(label.get_transform()
                            + ScaledTranslation(dx_px / 100, dy_px / 100, fig.dpi_scale_trans))


def cluster_labels(ax, dx_list, pad_px, size):
    """Rotated, coloured cluster names centred below a category axis."""
    ax.set_xticks(range(len(CLUSTERS)))
    ax.set_xticklabels(CLUSTERS, rotation=43, ha='center', va='center',
                       rotation_mode='anchor', fontsize=size)
    ax.tick_params(axis='x', length=0, pad=pad_px * 0.72)
    for label, color, dx in zip(ax.get_xticklabels(), COLORS, dx_list):
        label.set_color(color)
        shift_labels([label], dx)


# Panel A
ax_a = px_axes(95, 163, 887, 880)
for color, cells in zip(COLORS, [UMAP_MME, UMAP_CALB2, UMAP_HPSE, UMAP_ETV1, UMAP_MYH8,
                                 UMAP_SYNDIG, UMAP_CRH, UMAP_NMBR, UMAP_CHODL]):
    xy = np.array(cells)
    ax_a.scatter(xy[:, 0], xy[:, 1], s=17, color=color, linewidths=0)
ax_a.set_xlim(-0.85, 8.53)
ax_a.set_ylim(-14.8, 0)
ax_a.set_xticks([0, 2, 4, 6, 8])
ax_a.set_yticks([0, -5, -10])
ax_a.set_yticklabels(['0', '\u22125', '\u221210'])
ax_a.tick_params(labelsize=15, width=1.6, length=7, pad=6)
ax_a.tick_params(axis='x', pad=9)
clean_spines(ax_a, 2)
ax_a.set_xlabel('UMAP_1', fontsize=21, labelpad=12, x=0.55)
ax_a.set_ylabel('UMAP_2', fontsize=20.5, labelpad=0, y=0.52)

# Panel A inset
ax_in = px_axes(769, 83, 1005, 321)
ax_in.fill(*zip(*CGE_OUTLINE), color='#58585A', lw=0)
ax_in.fill(*zip(*CGE_ISLAND), color='#58585A', lw=0)
ax_in.fill(*zip(*PV_OUTLINE), color='#BE1E2D', lw=0)
ax_in.fill(*zip(*SST_OUTLINE), color='#1F6FB2', lw=0)
ax_in.fill(*zip(*SST_GAP), color='white', lw=0)
ax_in.scatter(*zip(*INSET_HOLES), s=6, color='white', linewidths=0)
ax_in.scatter(*zip(*INSET_PURPLE), s=14, color='#7A3A9A', linewidths=0)
ax_in.plot(*zip(*INSET_STREAK), color='#7A3A9A', lw=1.8)
ax_in.scatter(*zip(*INSET_RED), s=6, color='#BE1E2D', linewidths=0)
ax_in.plot(*zip(*INSET_CHODL), color=COLORS[8], lw=1.6)
ax_in.set_xlim(-12.3, 9.86)
ax_in.set_ylim(-15.1, 11.64)
ax_in.set_xticks([-10, -5, 0, 5])
ax_in.set_xticklabels(['\u221210', '\u22125', '0', '5'])
ax_in.set_yticks([10, 5, 0, -5, -10, -15])
ax_in.set_yticklabels(['10', '5', '0', '\u22125', '\u221210', '\u221215'])
ax_in.tick_params(labelsize=12, width=1, length=4, pad=3)
clean_spines(ax_in, 1.3)
ax_in.set_xlabel('UMAP_1', fontsize=14, labelpad=7)
ax_in.set_ylabel('UMAP_2', fontsize=14, labelpad=5)

# Panel B
cmap = LinearSegmentedColormap.from_list('magenta_yellow', ['#FF00FF', '#000000', '#FFFF00'])
norm = TwoSlopeNorm(vmin=-1.7, vcenter=0, vmax=2.5)
ax_b = px_axes(1139, 293, 1660.5, 867)
heat = ax_b.imshow(np.array(EXPRESSION), cmap=cmap, norm=norm, aspect='auto', interpolation='nearest')
ax_b.set_xticks([])
ax_b.set_yticks(range(len(GENES)))
ax_b.set_yticklabels(GENES, fontsize=20, style='italic')
ax_b.tick_params(axis='y', length=0, pad=9)
shift_labels(ax_b.get_yticklabels(), 0, 2)
for spine in ax_b.spines.values():
    spine.set_visible(False)

ax_strip = px_axes(1139, 268.5, 1660.5, 280.5)
ax_strip.bar(range(9), 1, width=1, color=COLORS)
ax_strip.set_xlim(-0.5, 8.5)
ax_strip.set_ylim(0, 1)
ax_strip.axis('off')

# Colour key with a linear value axis, as in the reference
ax_cb = px_axes(1421.7, 886, 1566.8, 915)
key_values = np.linspace(-1.7, 2.5, 256)
ax_cb.imshow(key_values[np.newaxis, :], cmap=cmap, norm=norm, aspect='auto', extent=[-1.7, 2.5, 0, 1])
ax_cb.set_yticks([])
ax_cb.set_xticks([-1, 0, 1, 2])
ax_cb.set_xticklabels(['\u22121', '0', '1', '2'])
ax_cb.tick_params(axis='x', labelsize=12, color='white', direction='in', length=5, width=1, pad=6, top=True)
for spine in ax_cb.spines.values():
    spine.set_visible(False)

# Panel C
SECTION_AXES = [(0, 0), (433, 6.7), (860, -8.3), (1288, -8.3)]
SECTION_DOTS = [
    [],
    [(SLIDE_MME, 0), (SLIDE_CALB2, 1), (SLIDE_HPSE, 2)],
    [(SLIDE_ETV1, 3), (SLIDE_MYH8, 4), (SLIDE_SYNDIG, 5)],
    [(SLIDE_CRH, 6), (SLIDE_NMBR, 7), (SLIDE_CHODL, 8)],
]
RING_SIZE = 95
for idx, ((dx, dy), dots) in enumerate(zip(SECTION_AXES, SECTION_DOTS)):
    ax = px_axes(dx, 1000 + dy, dx + 480, 1330 + dy)
    ax.set_xlim(0, 875)
    ax.set_ylim(1110, 120)
    ax.axis('off')
    if idx == 0:
        ax.fill(*zip(*L23_OUTLINE), color='#F8F8F8', lw=0)
        ax.scatter(*zip(*L23_RINGS), s=RING_SIZE, facecolors='none', edgecolors='#F1F1F1', linewidths=1.6)
    ax.fill(*zip(*L4_OUTLINE), color='#BEBEBE', lw=0)
    ax.scatter(*zip(*L4_RINGS), s=RING_SIZE, facecolors='none', edgecolors=(0.7, 0.7, 0.7, 0.5), linewidths=1.7)
    if idx == 0:
        ax.scatter(*zip(*L5_RINGS), s=RING_SIZE, facecolors='none', edgecolors=(0.3, 0.32, 0.45, 0.5), linewidths=1.7)
    ax.scatter(*zip(*L6_RINGS), s=RING_SIZE, facecolors='none', edgecolors=(0, 0, 0, 0.4), linewidths=1.7)
    for cells, k in dots:
        ax.scatter(*zip(*cells), s=165, color=COLORS[k], alpha=0.9, linewidths=0, zorder=5)

# Panel D
ax_d = px_axes(108.4, 1493.6, 560.5, 1978)
for k, cells in enumerate([DEPTH_MME, DEPTH_CALB2, DEPTH_HPSE, DEPTH_ETV1, DEPTH_MYH8,
                           DEPTH_SYNDIG, DEPTH_CRH, DEPTH_NMBR, DEPTH_CHODL]):
    xy = np.array(cells)
    ax_d.scatter(xy[:, 0], xy[:, 1], s=52, color=COLORS[k], alpha=0.5, linewidths=0)
    depth = np.array(VIOLIN_Y[k], dtype=float)
    half = np.array(VIOLIN_W[k])
    ax_d.fill(np.r_[k - half, (k + half)[::-1]], np.r_[depth, depth[::-1]],
              facecolor='none', edgecolor=COLORS[k], lw=2.2)
ax_d.set_xlim(-0.57, 8.59)
ax_d.set_ylim(4.50, -0.604)
ax_d.set_yticks(range(5))
ax_d.set_yticklabels(LAYERS, fontsize=16.5, ha='center')
ax_d.tick_params(axis='y', width=1.5, length=6, pad=22)
clean_spines(ax_d, 1.6)
cluster_labels(ax_d, [-31, -29, -26, -26, -19, -17, -14, -11, -10], 61, 18.3)
ax_d.set_ylabel('Cortical Layers', fontsize=18.5, labelpad=8, y=0.485)

# Panel E
ax_e = px_axes(696.8, 1493.6, 1119, 1974)
for k in range(9):
    color = COLORS[k]
    stat = {'med': BOX_MED[k], 'q1': BOX_Q1[k], 'q3': BOX_Q3[k],
            'whislo': BOX_LOW[k], 'whishi': BOX_HIGH[k], 'fliers': []}
    ax_e.bxp([stat], positions=[k], widths=0.77, showfliers=False, showcaps=False, manage_ticks=False,
             boxprops=dict(color=color, lw=2), whiskerprops=dict(color=color, lw=2),
             medianprops=dict(color=color, lw=5, solid_capstyle='butt'))
    for value, offset, marker in zip(SECTION_VALUES[k], SECTION_OFFSETS[k], SECTION_MARKERS):
        size = 7.5 if marker == 'D' else 10.5
        ax_e.plot(k + offset, value, marker=marker, ms=size, mfc='none', mec=color, mew=1.2, ls='none',
                  clip_on=False)
ax_e.set_xlim(-0.54, 8.59)
ax_e.set_ylim(0, 36.0)
ax_e.set_yticks([0, 10, 20, 30])
ax_e.set_yticklabels(['0%', '10%', '20%', '30%'], fontsize=17.5)
ax_e.tick_params(axis='y', width=1, length=7.5, pad=7)
clean_spines(ax_e, 1.2)
cluster_labels(ax_e, [-17, -15, -14, -13, -10, -8, -6, -5, -3], 65, 18.3)
ax_e.set_ylabel('Percentage of Total SST', fontsize=20.3, labelpad=6.5)

# Panel F
ax_f = px_axes(1220, 1504, 1709, 1887.8)
left = np.zeros(len(LAYERS))
shares = np.array(LAYER_SHARES)
for k in range(9):
    ax_f.barh(range(5), shares[:, k], left=left, height=0.756, color=COLORS[k],
              edgecolor=(1, 1, 1, 0.6), linewidth=0.8)
    left = left + shares[:, k]
ax_f.set_xlim(0, 41.05)
ax_f.set_ylim(4.59, -0.59)
ax_f.set_xticks([0, 20, 40])
ax_f.set_xticklabels(['0%', '20%', '40%'], fontsize=16)
shift_labels(ax_f.get_xticklabels(), -4)
ax_f.set_yticks(range(5))
ax_f.set_yticklabels(LAYERS, fontsize=16.5, ha='center')
ax_f.tick_params(axis='x', width=1.8, length=7, pad=8)
ax_f.tick_params(axis='y', length=0, pad=28)
clean_spines(ax_f, 2.2)
ax_f.set_xlabel('Percentage of Total SST', fontsize=20.3, labelpad=9.6, x=0.485)

# Overlay for titles, panel letters, cluster names and hand placed legends (picture pixels)
over = fig.add_axes([0, 0, 1, 1], zorder=20)
over.set_xlim(0, W)
over.set_ylim(H, 0)
over.axis('off')


def put(x, y, text, size, ha='center', va='center', **kw):
    over.text(x, y, text, fontsize=size, ha=ha, va=va, **kw)


for letter, x, y in [('A', 0, 36), ('B', 1025, 36), ('C', 3, 1015), ('D', 3, 1491), ('E', 564, 1491), ('F', 1129, 1491)]:
    put(x, y, letter, 35, ha='left', va='baseline', fontweight='bold')

put(494.5, 50, 'snRNA-seq', 28.5, fontweight='bold')
put(864, 995, 'Slide-seq V2', 28.3, fontweight='bold')
put(143, 142, 'P28', 24.4, ha='left')
put(213.5, 142, 'Dlx5/6-Cre; CAG-Sun1/sfGFP', 24.4, ha='left', style='italic')
put(1398, 76, 'Marker Gene Expression', 24.5)
put(1291.5, 903, 'Expression', 18.5)

for text, x, y, k in [('SST\u2212Crh', 427, 234, 6), ('SST\u2212Myh8', 224.7, 449, 4), ('SST\u2212Nmbr', 723, 440.5, 7),
                      ('SST\u2212Syndig1l', 339, 573, 5), ('SST\u2212Hpse', 809, 570, 2), ('SST\u2212Etv1', 346, 692, 3),
                      ('SST\u2212Mme', 846, 704, 0), ('SST\u2212Calb2', 586, 758, 1), ('CHODL', 411, 832, 8)]:
    put(x, y, text, 22.5, color=COLORS[k], fontweight='bold')

# Inset labels and the dashed SST box
put(805.5, 103.6, 'CGE', 16, color='#58585A', fontweight='bold')
put(991, 110, 'PV', 16, color='#BE1E2D', fontweight='bold')
put(992, 240, 'SST', 16, color='#1F6FB2', fontweight='bold')
put(974, 304, 'CHODL', 16, color=COLORS[8], fontweight='bold')
over.add_patch(Rectangle((887, 199), 137, 119, fill=False, ec='black', lw=2, ls=(0, (2, 1.2))))

# Column names above the heatmap
for k, name in enumerate(CLUSTERS):
    put(1168 + 58 * k, 254, name.replace('-', '\u2212'), 22, ha='left', rotation=43,
        rotation_mode='anchor', color=COLORS[k])

# Panel C legends
put(145, 1367, 'Excitatory', 18.4, ha='left')
put(145, 1398, 'Neurons', 18.4, ha='left')
for name, y, edge in [('L2/3', 1336, '#F2F2F2'), ('L4', 1366, '#DCDCDC'), ('L5', 1394, '#BBBBBB'), ('L6', 1423, '#999999')]:
    over.plot(286, y, 'o', ms=11, mfc='none', mec=edge, mew=1.8)
    put(313, y, name, 18.4, ha='left')
LEGEND_C = [(606, 643, [0, 1, 2], [1355.7, 1388, 1420.7]), (997, 1037, [3, 4, 5], [1355.7, 1387.7, 1419]),
            (1443.5, 1479.5, [6, 7, 8], [1353, 1386.7, 1420])]
for mark_x, text_x, members, rows in LEGEND_C:
    for k, y in zip(members, rows):
        over.plot(mark_x, y, 'o', ms=10.5, color=COLORS[k], mew=0, alpha=0.95)
        put(text_x, y, CLUSTERS[k], 18.4, ha='left')

# Panel E legend box
over.add_patch(Rectangle((724.6, 1550.4), 251.4, 76.6, fill=False, ec='black', lw=1.2))
put(850, 1574.6, 'tissue sections', 24.4)
for marker, x in zip(SECTION_MARKERS, [748.2, 782.5, 816.8, 851, 885.4, 919.6, 954.3]):
    over.plot(x, 1606.8, marker=marker, ms=7.5 if marker == 'D' else 10.5, mfc='none', mec='black', mew=1.2)

# Panel F legend
for k in range(9):
    col, row = k // 3, k % 3
    x_box = [1217, 1392, 1567][col]
    x_text = [1248, 1421, 1596][col]
    y_mid = [1996, 2036, 2075.5][row]
    over.add_patch(Rectangle((x_box, y_mid - 8.5), 17, 17, facecolor=COLORS[k], edgecolor=(1, 1, 1, 0.6), lw=0.8))
    put(x_text, y_mid, CLUSTERS[k], 16, ha='left')

fig.savefig('out.png', dpi=100)
